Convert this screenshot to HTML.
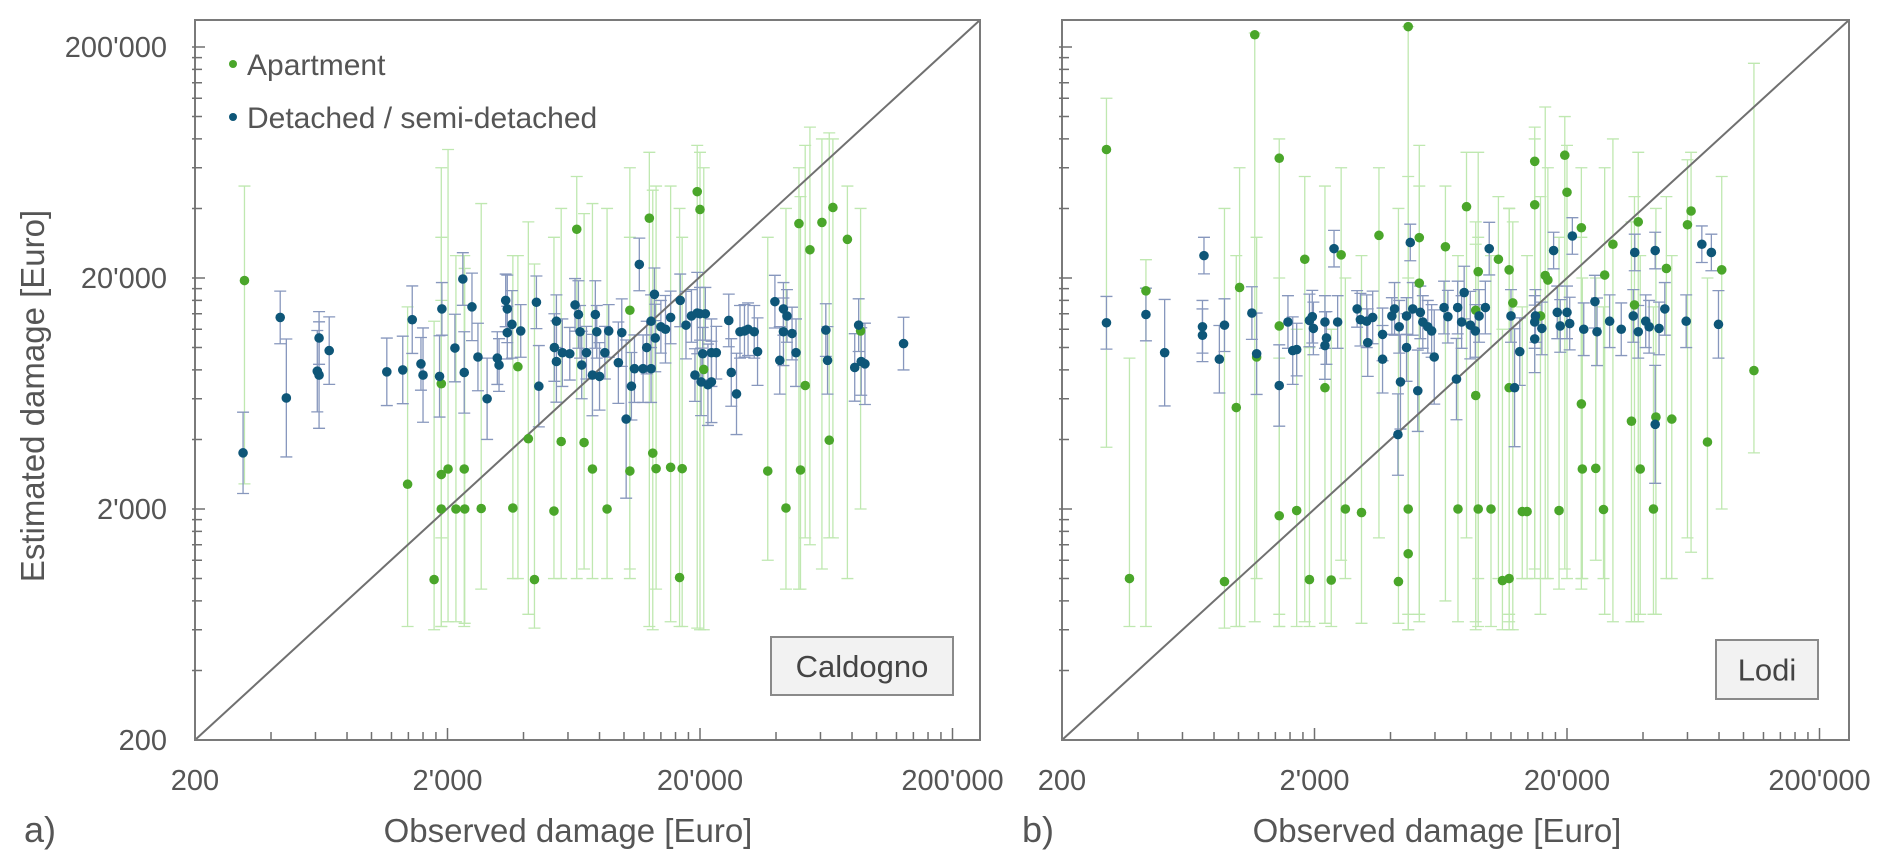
<!DOCTYPE html>
<html><head><meta charset="utf-8">
<style>
html,body{margin:0;padding:0;background:#fff;}
svg{display:block;font-family:"Liberation Sans",Arial,sans-serif;}
</style></head>
<body>
<svg id="chart" width="1892" height="868" viewBox="0 0 1892 868" xmlns="http://www.w3.org/2000/svg">
<defs>
<clipPath id="clipA"><rect x="195" y="20" width="785" height="720"/></clipPath>
<clipPath id="clipB"><rect x="1062" y="20" width="787" height="720"/></clipPath>
</defs>
<text x="0" y="0" transform="translate(44,396) rotate(-90)" text-anchor="middle" font-size="33" fill="#555">Estimated damage [Euro]</text>
<text x="568" y="842" text-anchor="middle" font-size="33" fill="#555">Observed damage [Euro]</text>
<text x="1437" y="842" text-anchor="middle" font-size="33" fill="#555">Observed damage [Euro]</text>
<text x="24" y="842" font-size="36" fill="#555">a)</text>
<text x="1022" y="842" font-size="36" fill="#555">b)</text>
<g id="layer"></g>
</svg>
<script>
// ---- Panel a (Caldogno) data ----
const aptObsA=[314,1390,1770,1890,1890,1890,2010,2160,2330,2340,2720,3630,3800,4180,4420,5280,5640,6500,6950,7500,8570,10550,10550,12600,13000,13400,15300,16600,17000,19500,20000,20700,37100,43800,49300,50000,52200,54500,60800,65000,67200,76700,86500];
const aptEstA=[19500,2560,990,2820,2000,6970,2980,2000,2980,2000,2010,2020,8260,4030,990,1960,3920,32500,3880,2980,2000,14500,2920,36300,3490,2990,3030,1010,2990,47300,39600,8040,2920,2020,34400,2950,6850,26500,34800,3970,40400,29400,11800];
const aptLoA=[2570,620,600,620,620,1500,650,650,620,640,900,1000,1000,700,610,1000,1000,1000,1100,1000,1000,1000,1100,620,600,900,650,620,620,610,600,600,1200,900,900,900,1500,1400,1100,1500,1500,1000,2000];
const aptHiA=[50000,15000,13000,16000,60000,30000,72000,25000,25000,22000,42000,25000,25000,35000,23000,30000,40000,55000,38000,42000,40000,60000,30000,70000,48000,50000,50000,40000,30000,75000,70000,60000,30000,40000,60000,45000,75000,90000,80000,85000,80000,50000,40000];
const detObsA=[310,435,460,610,620,620,680,1150,1330,1450,1570,1600,1860,1900,2140,2300,2330,2500,2640,2870,3150,3200,3400,3450,3450,3600,3900,4500,4600,5300,5400,5400,5700,6100,6400,6600,6700,6800,7100,7500,7700,7800,8000,8400,8700,9500,9800,10200,10700,11000,11500,11900,12300,12800,12800,13200,13300,14000,14600,15300,16700,17600,18500,19100,19500,20000,20200,20500,21000,21500,22200,22200,23200,26000,26600,27900,28800,30000,31000,32800,33800,39600,41400,42800,42800,44200,46300,48000,63000,64000,82000,85000,87000,90000,128000];
const detEstA=[3500,13500,6050,7900,11000,7600,9700,7850,8000,13200,8500,7600,7500,14700,9950,19800,7800,15000,9100,6000,9000,8400,16000,14700,11600,12600,11800,15700,6800,10000,13000,8700,9500,9400,15300,13900,11700,8400,9500,7600,13900,11700,7500,9500,11800,8600,11600,4900,6800,8100,22900,8100,10000,13000,8100,17000,11000,12300,12000,13500,16000,12500,13700,7600,14100,14000,7100,9400,14000,6900,9500,7100,9500,13100,7800,6300,11700,11800,12000,11700,9600,15800,8800,14700,11700,13700,11500,9500,11900,8800,8200,12500,8700,8500,10400];
const detErrA=[1.5,1.3,1.8,1.5,1.3,1.7,1.4,1.4,1.4,1.4,1.3,1.6,1.5,1.3,1.4,1.3,1.5,1.4,1.4,1.5,1.3,1.3,1.3,1.4,1.3,1.4,1.3,1.3,1.5,1.4,1.3,1.5,1.4,1.3,1.3,1.4,1.3,1.4,1.3,1.5,1.4,1.3,1.4,1.3,1.3,1.5,1.4,2.2,1.4,1.4,1.3,1.4,1.3,1.3,1.4,1.3,1.4,1.3,1.4,1.3,1.3,1.4,1.3,1.3,1.5,1.3,1.4,1.3,1.3,1.5,1.4,1.5,1.3,1.3,1.4,1.5,1.3,1.3,1.3,1.3,1.4,1.3,1.4,1.3,1.4,1.3,1.3,1.4,1.3,1.4,1.4,1.3,1.4,1.5,1.3];
// ---- Panel b (Lodi) data ----
const aptObsB=[300,370,430,880,980,1010,1160,1180,1450,1450,1450,1700,1830,1910,2200,2330,2550,2650,3070,3600,4300,4700,4700,4700,5200,5200,6600,7400,8000,8700,8700,8900,8900,10000,10700,11100,11800,11800,11800,12200,13300,13900,14900,14900,15700,16400,16800,18600,19600,20000,22800,22800,23000,26000,27900,28200,30400,36000,37000,38300,39000,44000,45000,49500,52000,60000,62000,72000,82000,110000];
const aptEstB=[72000,1000,17600,970,5500,18200,226000,9100,1870,66000,12400,1970,24100,990,6700,985,25200,2000,1930,30600,970,245000,2000,1280,19000,29900,27300,2000,40700,14500,6200,21300,2000,2000,24100,980,21700,1000,6700,15600,1950,1950,64000,41500,13700,20500,19600,1970,68000,47000,5700,33000,2980,3000,1990,20600,28000,4800,15300,35000,2980,2000,5000,22000,4900,34000,39000,3900,21700,7950];
const aptLoB=[3700,620,620,610,620,620,650,1000,620,620,700,620,650,620,640,620,1200,1000,640,1500,640,600,700,600,650,700,800,650,1500,650,600,620,1000,620,1000,600,650,600,700,600,1000,1000,1000,1100,700,1000,1000,900,1100,1000,1000,900,1000,1200,1000,700,650,650,650,650,700,700,700,1000,1000,1500,1300,1000,2000,3500];
const aptHiB=[120000,9000,24000,40000,25000,60000,230000,30000,9000,80000,20000,12000,55000,10000,50000,12000,60000,20000,25000,60000,40000,245000,55000,20000,75000,50000,50000,25000,70000,28000,35000,70000,30000,25000,45000,12000,40000,40000,40000,35000,15000,25000,90000,80000,45000,110000,60000,30000,100000,75000,30000,60000,20000,20000,15000,60000,80000,35000,45000,70000,25000,15000,40000,45000,25000,65000,70000,20000,55000,170000];
const detObsB=[300,430,510,720,720,730,840,880,1130,1180,1450,1570,1640,1700,1910,1960,1980,2200,2200,2230,2390,2470,2950,3040,3220,3250,3400,3720,3720,4050,4150,4280,4330,4380,4630,4630,4790,4900,5130,5250,5370,5620,5820,5960,6520,6750,7300,7380,7830,7650,8280,8670,8970,9500,9840,12000,13000,12400,14900,14900,15000,15900,17700,18300,18800,20000,20500,21000,23300,25800,26300,29500,32800,36600,37100,38300,41000,42300,44700,44700,46300,48800,59300,68400,74600,79600];
const detEstB=[12800,13900,9500,12300,11300,25000,8900,12500,14100,9400,6850,12900,9700,9800,13100,13600,12100,12900,10200,11000,26800,12900,14700,13200,13000,10500,13500,11400,8900,13700,14700,4200,12300,7100,10000,13700,28500,14700,6500,14200,12900,12300,11800,9100,14900,13600,7300,14900,17300,12900,12500,11800,13700,14900,26800,13700,9600,6700,12900,10900,13700,12100,26300,14200,12400,14200,12700,30400,12000,15800,11700,13000,12000,13700,25800,11700,13000,12300,26300,4650,12100,14700,13000,28000,25800,12600];
const detErrB=[1.3,1.3,1.7,1.3,1.3,1.2,1.4,1.3,1.3,1.5,1.5,1.3,1.4,1.3,1.3,1.3,1.3,1.3,1.4,1.3,1.2,1.3,1.2,1.3,1.3,1.4,1.3,1.3,1.4,1.2,1.3,1.5,1.3,1.6,1.4,1.2,1.2,1.3,1.5,1.3,1.3,1.3,1.3,1.6,1.3,1.3,1.5,1.3,1.3,1.3,1.4,1.3,1.3,1.3,1.3,1.3,1.4,1.8,1.3,1.4,1.3,1.3,1.2,1.3,1.3,1.3,1.3,1.2,1.3,1.3,1.4,1.3,1.3,1.3,1.2,1.3,1.3,1.3,1.2,1.8,1.3,1.3,1.3,1.2,1.2,1.4];
const xTickLabels=["200","2'000","20'000","200'000"];
const xTickValues=[200,2000,20000,200000];
const yTickLabels=["200","2'000","20'000","200'000"];
const yTickValues=[200,2000,20000,200000];

const NS="http://www.w3.org/2000/svg";
const layer=document.getElementById('layer');
const L0=Math.log10(200), DX=252.5, DY=231, Y0=740, TOP=20;
function xS(v,x0){return x0+(Math.log10(v)-L0)*DX;}
function yS(v){return Y0-(Math.log10(v)-L0)*DY;}
function mk(tag,attrs,parent){const e=document.createElementNS(NS,tag);for(const k in attrs)e.setAttribute(k,attrs[k]);(parent||layer).appendChild(e);return e;}

function panel(id,x0,x1,clip,aObs,aEst,aLo,aHi,dObs,dEst,dErr,boxLabel,bx,by,bw,bh){
  const g=mk('g',{});
  
  
  const gc=mk('g',{'clip-path':'url(#'+clip+')'},g);
  for(let i=0;i<aObs.length;i++){
    const x=xS(aObs[i],x0),yl=yS(aLo[i]),yh=yS(aHi[i]);
    const e=mk('path',{d:`M${x},${yl}V${yh}M${x-6},${yl}H${x+6}M${x-6},${yh}H${x+6}`,stroke:'#bfe8b0','stroke-width':1.3,fill:'none'},gc);
    
    
  }
  for(let i=0;i<dObs.length;i++){
    const x=xS(dObs[i],x0),f=dErr[i]||1.3,yl=yS(dEst[i]/f),yh=yS(dEst[i]*f);
    const e=mk('path',{d:`M${x},${yl}V${yh}M${x-6},${yl}H${x+6}M${x-6},${yh}H${x+6}`,stroke:'#8797bd','stroke-width':1.3,fill:'none'},gc);
    
    
  }
  const d=mk('line',{x1:x0,y1:Y0,x2:x1,y2:TOP,stroke:'#707070','stroke-width':2},gc);
  
  
  for(let i=0;i<aObs.length;i++){
    const c=mk('circle',{cx:xS(aObs[i],x0),cy:yS(aEst[i]),r:4.8,fill:'#4aa62a'},gc);
    
    
  }
  for(let i=0;i<dObs.length;i++){
    const c=mk('circle',{cx:xS(dObs[i],x0),cy:yS(dEst[i]),r:4.8,fill:'#0e5678'},gc);
    
    
  }
  const fr=mk('rect',{x:x0,y:TOP,width:x1-x0,height:Y0-TOP,fill:'none',stroke:'#7a7a7a','stroke-width':2},g);
  
  
  let tp='';
  for(let dec=200;dec<=200000;dec*=10){
    for(let m=1;m<10;m++){
      const v=dec*m; const major=(m===1);
      const x=xS(v,x0); if(x<=x1-1&&x>x0+1){tp+=`M${x},${Y0}V${Y0-(major?12:8)}`;}
      const y=yS(v); if(y>=TOP+1&&y<Y0-1){tp+=`M${x0-3},${y}H${x0+(major?10:7)}`;}
    }
  }
  const tk=mk('path',{d:tp,stroke:'#707070','stroke-width':1.5,fill:'none'},g);
  
  
  for(let i=0;i<xTickValues.length;i++){
    const t=mk('text',{x:xS(xTickValues[i],x0),y:790,'text-anchor':'middle','font-size':29,fill:'#555'},g);
    t.textContent=xTickLabels[i];
    
    
  }
  if(id==='a'){
    for(let i=0;i<yTickValues.length;i++){
      const t=mk('text',{x:167,y:yS(yTickValues[i])+10,'text-anchor':'end','font-size':29,fill:'#555'},g);
      t.textContent=yTickLabels[i];
      
      
    }
  }
  const b=mk('rect',{x:bx,y:by,width:bw,height:bh,fill:'#f2f2f2',stroke:'#8a8a8a','stroke-width':2},g);
  
  
  const bt=mk('text',{x:bx+bw/2,y:by+bh/2+11,'text-anchor':'middle','font-size':31,fill:'#444'},g);
  bt.textContent=boxLabel;
  
  
}
panel('a',195,980,'clipA',aptObsA,aptEstA,aptLoA,aptHiA,detObsA,detEstA,detErrA,'Caldogno',771,637,182,58);
panel('b',1062,1849,'clipB',aptObsB,aptEstB,aptLoB,aptHiB,detObsB,detEstB,detErrB,'Lodi',1716,640,102,59);

const lg=mk('g',{});


const l1=mk('circle',{cx:233,cy:64,r:4,fill:'#4aa62a'},lg);


const t1=mk('text',{x:247,y:75,'font-size':30,fill:'#555'},lg);
t1.textContent='Apartment';


const l2=mk('circle',{cx:233,cy:117,r:4,fill:'#0e5678'},lg);


const t2=mk('text',{x:247,y:128,'font-size':30,fill:'#555'},lg);
t2.textContent='Detached / semi-detached';


</script>
</body></html>
